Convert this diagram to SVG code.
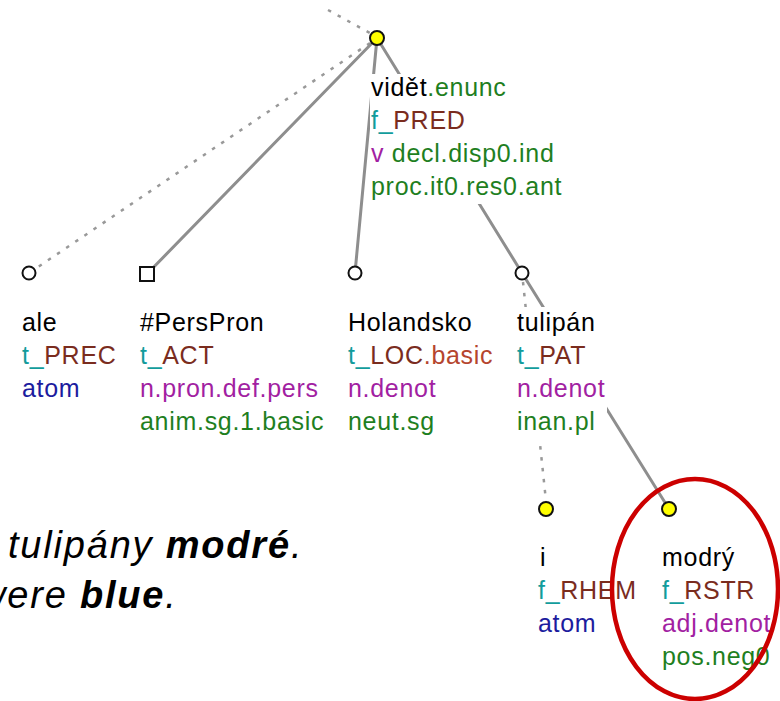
<svg xmlns="http://www.w3.org/2000/svg" width="780" height="701" viewBox="0 0 780 701">
<style>
.edge{stroke:#8e8e8e;stroke-width:3;fill:none;stroke-linecap:round}
.dot{stroke:#999999;stroke-width:2.5;fill:none;stroke-dasharray:3.5 7.5}
.bg{fill:#ffffff}
.lab{font-family:"Liberation Sans",Arial,sans-serif;font-size:25px;letter-spacing:0.7px}
.k{fill:#000000}
.g{fill:#1f7f1f}
.c{fill:#129c9c}
.b{fill:#7a2c1e}
.r{fill:#b5452e}
.p{fill:#a21fa2}
.u{fill:#1c1c9e}
.node{stroke:#111111;stroke-width:2}
.on{fill:#ffffff}
.y{fill:#ffff00}
.sent{font-family:"Liberation Sans",Arial,sans-serif;font-size:38px;font-style:italic;letter-spacing:1.8px;fill:#000000}
</style>
<g id="connectors">
<line class="dot" x1="328" y1="10" x2="370" y2="33"/>
<line class="dot" x1="370" y1="43" x2="35" y2="269"/>
<line class="edge" x1="377" y1="38" x2="147" y2="274"/>
<line class="edge" x1="377" y1="38" x2="355" y2="273"/>
<line class="edge" x1="377" y1="38" x2="522" y2="273"/>
<line class="edge" x1="522" y1="273" x2="669" y2="509"/>
<line class="dot" x1="523" y1="282" x2="546" y2="501"/>
</g>
<g id="n-videt">
<rect class="bg" x="370" y="74" width="192" height="130"/>
<text class="lab" x="371" y="96"><tspan class="k">vidět</tspan><tspan class="g">.enunc</tspan></text>
<text class="lab" x="371" y="129"><tspan class="c">f_</tspan><tspan class="b">PRED</tspan></text>
<text class="lab" x="371" y="162"><tspan class="p">v</tspan><tspan class="g"> decl.disp0.ind</tspan></text>
<text class="lab g" x="371" y="195">proc.it0.res0.ant</text>
<circle class="node y" cx="377" cy="38" r="7"/>
</g>
<g id="n-ale">
<rect class="bg" x="20" y="308" width="100" height="97"/>
<text class="lab k" x="22" y="331">ale</text>
<text class="lab" x="22" y="364"><tspan class="c">t_</tspan><tspan class="b">PREC</tspan></text>
<text class="lab u" x="22" y="397">atom</text>
<circle class="node on" cx="29" cy="273" r="6.5"/>
</g>
<g id="n-perspron">
<rect class="bg" x="138" y="308" width="190" height="130"/>
<text class="lab k" x="140" y="331">#PersPron</text>
<text class="lab" x="140" y="364"><tspan class="c">t_</tspan><tspan class="b">ACT</tspan></text>
<text class="lab p" x="140" y="397">n.pron.def.pers</text>
<text class="lab g" x="140" y="430">anim.sg.1.basic</text>
<rect class="node on" x="140" y="267" width="14" height="14"/>
</g>
<g id="n-holandsko">
<rect class="bg" x="346" y="308" width="152" height="130"/>
<text class="lab k" x="348" y="331">Holandsko</text>
<text class="lab" x="348" y="364"><tspan class="c">t_</tspan><tspan class="b">LOC</tspan><tspan class="r">.basic</tspan></text>
<text class="lab p" x="348" y="397">n.denot</text>
<text class="lab g" x="348" y="430">neut.sg</text>
<circle class="node on" cx="355" cy="273" r="6.5"/>
</g>
<g id="n-tulipan">
<rect class="bg" x="515" y="307" width="92" height="133"/>
<text class="lab k" x="517" y="331">tulipán</text>
<text class="lab" x="517" y="364"><tspan class="c">t_</tspan><tspan class="b">PAT</tspan></text>
<text class="lab p" x="517" y="397">n.denot</text>
<text class="lab g" x="517" y="430">inan.pl</text>
<circle class="node on" cx="522" cy="273" r="6.5"/>
</g>
<g id="n-i">
<text class="lab k" x="540" y="566">i</text>
<text class="lab" x="538" y="599"><tspan class="c">f_</tspan><tspan class="b">RHEM</tspan></text>
<text class="lab u" x="538" y="632">atom</text>
<circle class="node y" cx="546" cy="509" r="7"/>
</g>
<g id="n-modry">
<text class="lab k" x="662" y="566">modrý</text>
<text class="lab" x="662" y="599"><tspan class="c">f_</tspan><tspan class="b">RSTR</tspan></text>
<text class="lab p" x="662" y="632">adj.denot</text>
<text class="lab g" x="662" y="665">pos.neg0</text>
<circle class="node y" cx="669" cy="509" r="7"/>
</g>
<g id="sentence">
<text class="sent" x="8" y="558">tulipány <tspan font-weight="bold">modré</tspan>.</text>
<text class="sent" x="-22" y="608">were <tspan font-weight="bold">blue</tspan>.</text>
</g>
<ellipse id="highlight" cx="695" cy="589" rx="83" ry="110" fill="none" stroke="#cc0000" stroke-width="4.5"/>
</svg>
